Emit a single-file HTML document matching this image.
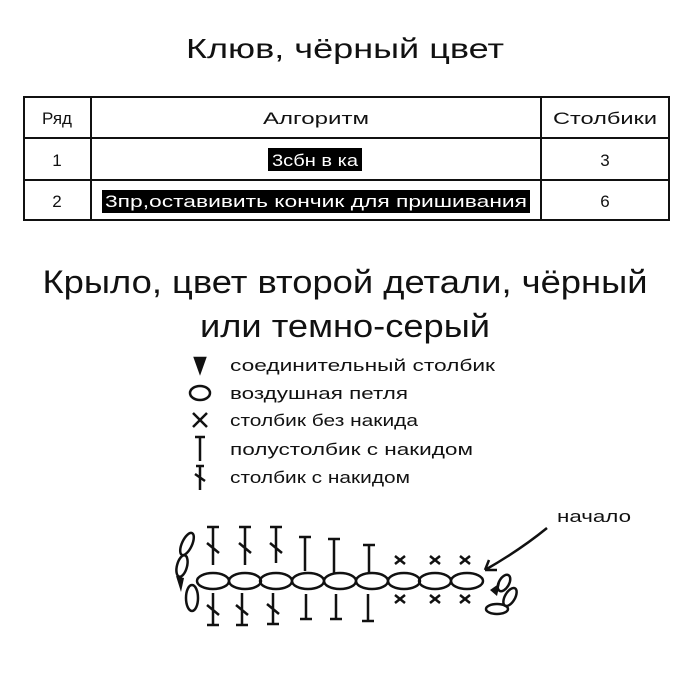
<!DOCTYPE html>
<html><head><meta charset="utf-8"><style>
body{margin:0;background:#fff}
svg{display:block}
text{font-family:"Liberation Sans",sans-serif;fill:#111}
</style></head><body>
<svg width="690" height="690" viewBox="0 0 690 690" xmlns="http://www.w3.org/2000/svg">
<text x="345" y="58" font-size="28" text-anchor="middle" textLength="318" lengthAdjust="spacingAndGlyphs">Клюв,  чёрный цвет</text>
<g stroke="#111" stroke-width="2" fill="none">
<rect x="24" y="97" width="645" height="123"/>
<line x1="24" y1="138" x2="669" y2="138"/>
<line x1="24" y1="180" x2="669" y2="180"/>
<line x1="91" y1="97" x2="91" y2="220"/>
<line x1="541" y1="97" x2="541" y2="220"/>
</g>
<g font-size="17" text-anchor="middle">
<text x="57" y="124">Ряд</text>
<text x="316" y="124" textLength="106" lengthAdjust="spacingAndGlyphs">Алгоритм</text>
<text x="605" y="124" textLength="104" lengthAdjust="spacingAndGlyphs">Столбики</text>
<text x="57" y="166">1</text>
<text x="605" y="166">3</text>
<text x="57" y="207">2</text>
<text x="605" y="207">6</text>
</g>
<rect x="268" y="148" width="94" height="23" fill="#000"/>
<text x="315" y="166" font-size="17" text-anchor="middle" textLength="86" lengthAdjust="spacingAndGlyphs" style="fill:#fff">3сбн в ка</text>
<rect x="102" y="190" width="428" height="23" fill="#000"/>
<text x="316" y="207" font-size="17" text-anchor="middle" textLength="422" lengthAdjust="spacingAndGlyphs" style="fill:#fff">3пр,оставивить кончик для пришивания</text>
<text x="345" y="293" font-size="32" text-anchor="middle" textLength="605" lengthAdjust="spacingAndGlyphs">Крыло, цвет второй детали, чёрный</text>
<text x="345" y="337" font-size="32" text-anchor="middle" textLength="290" lengthAdjust="spacingAndGlyphs">или темно-серый</text>
<!-- legend -->
<g stroke="#111" stroke-width="2.5" fill="none">
<path d="M195 358 L205 358 L200 372 Z" fill="#111"/>
<ellipse cx="200" cy="393" rx="10" ry="7"/>
<path d="M193 413 L207 427 M207 413 L193 427"/>
<path d="M200 437 V461 M195 437 H205"/>
<path d="M200 465 V490 M196 466 H204 M195 474 L205 481"/>
</g>
<g font-size="17">
<text x="230" y="371" textLength="265" lengthAdjust="spacingAndGlyphs">соединительный столбик</text>
<text x="230" y="399" textLength="178" lengthAdjust="spacingAndGlyphs">воздушная петля</text>
<text x="230" y="426" textLength="188" lengthAdjust="spacingAndGlyphs">столбик без накида</text>
<text x="230" y="455" textLength="243" lengthAdjust="spacingAndGlyphs">полустолбик с накидом</text>
<text x="230" y="483" textLength="180" lengthAdjust="spacingAndGlyphs">столбик с накидом</text>
</g>
<!-- chart -->
<g stroke="#111" stroke-width="2.5" fill="none">
<ellipse cx="213" cy="581" rx="16" ry="8"/>
<ellipse cx="245" cy="581" rx="16" ry="8"/>
<ellipse cx="276" cy="581" rx="16" ry="8"/>
<ellipse cx="308" cy="581" rx="16" ry="8"/>
<ellipse cx="340" cy="581" rx="16" ry="8"/>
<ellipse cx="372" cy="581" rx="16" ry="8"/>
<ellipse cx="404" cy="581" rx="16" ry="8"/>
<ellipse cx="435" cy="581" rx="16" ry="8"/>
<ellipse cx="467" cy="581" rx="16" ry="8"/>
<path d="M213 527 V565 M207 527 H219 M207 543 L219 553"/>
<path d="M245 527 V565 M239 527 H251 M239 543 L251 553"/>
<path d="M276 527 V563 M270 527 H282 M270 543 L282 553"/>
<path d="M305 537 V571 M299 537 H311"/>
<path d="M334 539 V573 M328 539 H340"/>
<path d="M369 545 V573 M363 545 H375"/>
<path d="M395 556 L405 564 M405 556 L395 564"/>
<path d="M430 556 L440 564 M440 556 L430 564"/>
<path d="M460 556 L470 564 M470 556 L460 564"/>
<path d="M213 593 V625 M207 625 H219 M207 605 L219 615"/>
<path d="M242 593 V625 M236 625 H248 M236 605 L248 615"/>
<path d="M273 593 V624 M267 624 H279 M267 604 L279 614"/>
<path d="M306 594 V619 M300 619 H312"/>
<path d="M336 594 V619 M330 619 H342"/>
<path d="M368 594 V621 M362 621 H374"/>
<path d="M395 595 L405 603 M405 595 L395 603"/>
<path d="M430 595 L440 603 M440 595 L430 603"/>
<path d="M460 595 L470 603 M470 595 L460 603"/>
<ellipse cx="187" cy="544" rx="5" ry="12" transform="rotate(25 187 544)"/>
<ellipse cx="182" cy="566" rx="5" ry="11" transform="rotate(15 182 566)"/>
<ellipse cx="192" cy="598" rx="6" ry="13"/>
<ellipse cx="504" cy="583" rx="5" ry="9" transform="rotate(30 504 583)"/>
<ellipse cx="510" cy="597" rx="5" ry="10" transform="rotate(30 510 597)"/>
<ellipse cx="497" cy="609" rx="11" ry="5"/>
<path d="M547 528 Q520 550 485 570 M485 570 L497 570 M485 570 L489 560"/>
</g>
<path d="M176 576 L184 578 L181 592 Z" fill="#111"/>
<path d="M490 590 L500 583 L497 596 Z" fill="#111"/>
<text x="557" y="522" font-size="17" textLength="74" lengthAdjust="spacingAndGlyphs">начало</text>
</svg>
</body></html>
